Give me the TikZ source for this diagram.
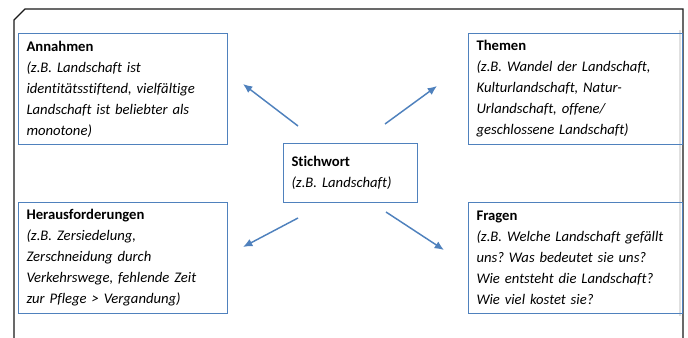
\documentclass[tikz,border=0pt]{standalone}
\usepackage{fontspec}
\setmainfont[Ligatures=NoCommon]{Carlito}
\usetikzlibrary{arrows.meta}
\definecolor{rahmenblau}{RGB}{79,129,189}
\frenchspacing

\begin{document}
\begin{tikzpicture}[x=0.75pt,y=-0.75pt,
    kasten/.style={draw=rahmenblau,line width=0.8pt,anchor=north west,align=left,
      inner xsep=6pt,inner ysep=0pt,font=\fontsize{11pt}{15.75pt}\selectfont},
    pfeil/.style={draw=rahmenblau,line width=1.1pt,-{Latex[length=7pt,width=6pt]}}]
\useasboundingbox (0,0) rectangle (688,338);
\draw[black!90,line width=0.9pt] (14,338) -- (14,20) -- (25,9) -- (683,9) -- (683,338);
\fill[black!12] (679,30) rectangle (681,316);

\node[kasten,text width=144.75pt,minimum height=83.25pt] (annahmen) at (18,33)
    {\textbf{Annahmen}\\ \itshape (z.B. Landschaft ist\\ identitätsstiftend, vielfältige\\
     Landschaft ist beliebter als\\ monotone)};
\node[kasten,text width=148.5pt,minimum height=83.25pt] (themen) at (468,33)
    {\textbf{Themen}\\ \itshape (z.B. Wandel der Landschaft,\\ Kulturlandschaft, Natur-\\
     Urlandschaft, offene/\\ geschlossene Landschaft)};
\node[kasten,text width=88.5pt,minimum height=44.25pt] (stichwort) at (283,143)
    {\textbf{Stichwort}\\ \itshape (z.B. Landschaft)};
\node[kasten,text width=144.75pt,minimum height=83.25pt] (heraus) at (18,202)
    {\textbf{Herausforderungen}\\ \itshape (z.B. Zersiedelung,\\ Zerschneidung durch\\
     Verkehrswege, fehlende Zeit\\ zur Pflege > Vergandung)};
\node[kasten,text width=148.5pt,minimum height=83.25pt] (fragen) at (468,202)
    {\textbf{Fragen}\\ \itshape (z.B. Welche Landschaft gefällt\\ uns? Was bedeutet sie uns?\\
     Wie entsteht die Landschaft?\\ Wie viel kostet sie?};

\coordinate (s1) at (298,126); \coordinate (z1) at (243,84);
\coordinate (s2) at (385,124); \coordinate (z2) at (437,86);
\coordinate (s3) at (298,218); \coordinate (z3) at (243,247);
\coordinate (s4) at (386,212); \coordinate (z4) at (444,250);
\draw[pfeil] (s1) -- (z1);
\draw[pfeil] (s2) -- (z2);
\draw[pfeil] (s3) -- (z3);
\draw[pfeil] (s4) -- (z4);
\end{tikzpicture}
\end{document}
